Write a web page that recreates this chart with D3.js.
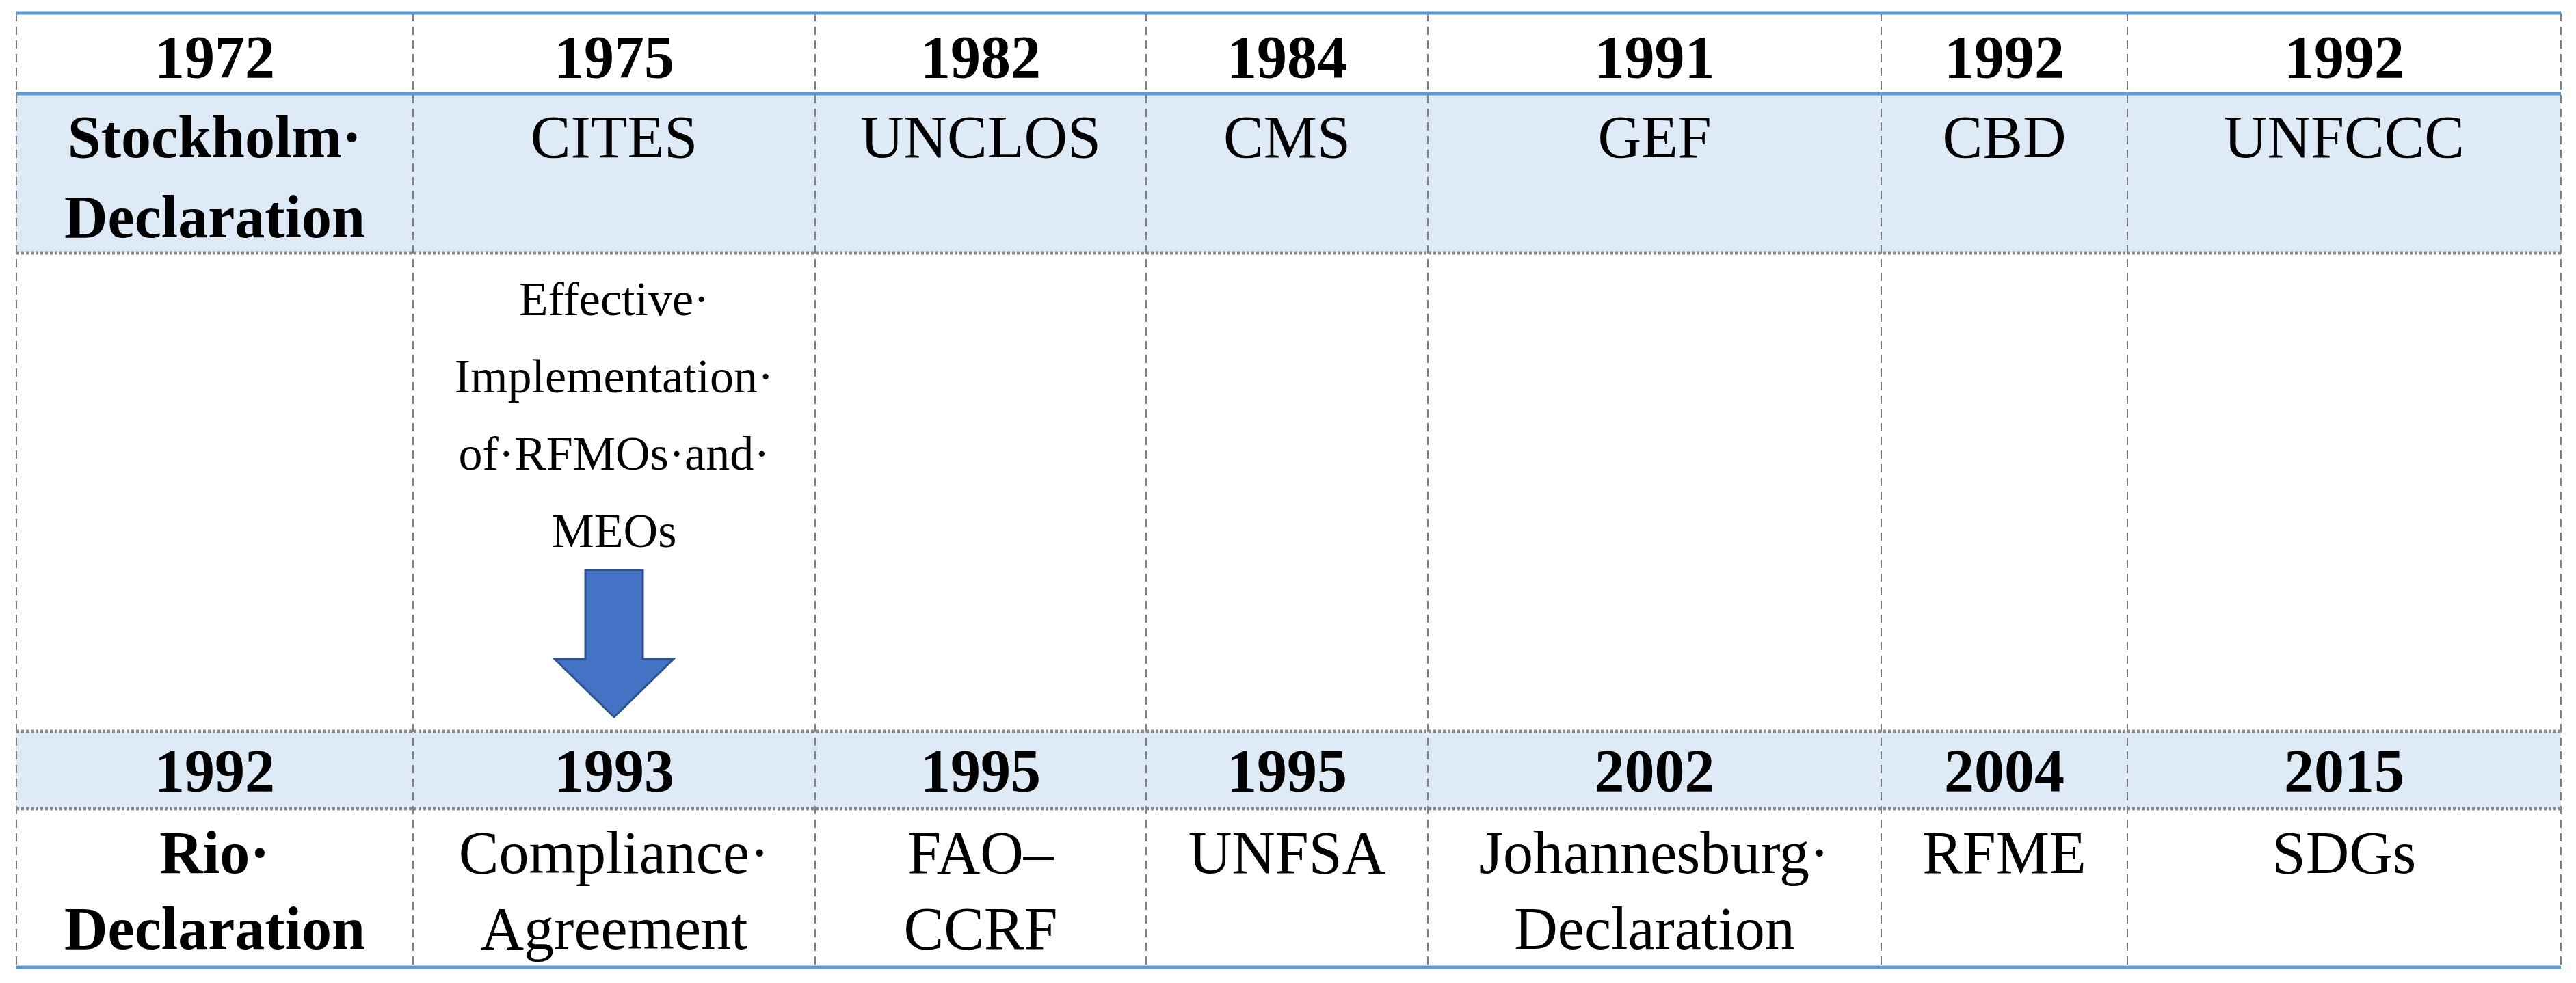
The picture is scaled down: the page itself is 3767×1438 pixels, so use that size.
<!DOCTYPE html>
<html><head><meta charset="utf-8">
<script src="https://cdn.jsdelivr.net/npm/d3@7"></script>
<style>body{margin:0;background:#fff}</style>
</head><body>
<svg id="c" width="3767" height="1438"></svg>
<script>
// data
const topYears = ["1972","1975","1982","1984","1991","1992","1992"];
const topNames = [["Stockholm·","Declaration"],["CITES"],["UNCLOS"],["CMS"],["GEF"],["CBD"],["UNFCCC"]];
const middleNote = ["Effective·","Implementation·","of·RFMOs·and·","MEOs"];
const bottomYears = ["1992","1993","1995","1995","2002","2004","2015"];
const bottomNames = [["Rio·","Declaration"],["Compliance·","Agreement"],["FAO–","CCRF"],["UNFSA"],["Johannesburg·","Declaration"],["RFME"],["SDGs"]];

// layout
const colEdges = [24,604,1192,1676,2088,2751,3111,3745];
const rowEdges = [19,137,370,1070,1183,1415];
const svg = d3.select("#c");
const F = "'Liberation Serif','Times New Roman',serif";
const FS = 88, LH = 117;
const cx = i => (colEdges[i]+colEdges[i+1])/2;
const idx = d3.range(topYears.length);

// blue backgrounds
[[1,2],[3,4]].forEach(([a,b])=>{
  svg.append("rect").attr("x",colEdges[0]).attr("y",rowEdges[a])
    .attr("width",colEdges[7]-colEdges[0]).attr("height",rowEdges[b]-rowEdges[a])
    .attr("fill","#DEEAF6");
});

// vertical dashed lines
svg.selectAll("line.v").data(colEdges).join("line")
  .attr("x1",d=>d).attr("x2",d=>d).attr("y1",rowEdges[0]).attr("y2",rowEdges[5])
  .attr("stroke","#7f7f7f").attr("stroke-width",2).attr("stroke-dasharray","12,8");

// horizontal dotted lines
[rowEdges[2],rowEdges[3],rowEdges[4]].forEach(y=>{
  svg.append("line").attr("x1",colEdges[0]).attr("x2",colEdges[7]).attr("y1",y).attr("y2",y)
    .attr("stroke","#8a8a8a").attr("stroke-width",5).attr("stroke-dasharray","4,3");
});
// blue solid lines
[rowEdges[0],rowEdges[1],rowEdges[5]].forEach(y=>{
  svg.append("line").attr("x1",colEdges[0]).attr("x2",colEdges[7]).attr("y1",y).attr("y2",y)
    .attr("stroke","#5B9BD5").attr("stroke-width",5);
});

function cellText(lines, i, yStart, bold, size, lh){
  const t = svg.append("text").attr("x",cx(i)).attr("text-anchor","middle")
    .attr("font-family",F).attr("font-size",size).attr("font-weight",bold?"bold":"normal")
    .attr("fill","#000");
  lines.forEach((s,k)=>t.append("tspan").attr("x",cx(i)).attr("y",yStart+k*lh)
    .attr("dominant-baseline","central").text(s));
}
idx.forEach(i=>{
  cellText([topYears[i]], i, 83, true, FS, LH);
  cellText(topNames[i], i, 200, i===0, FS, LH);
  cellText([bottomYears[i]], i, 1127, true, FS, LH);
  cellText(bottomNames[i], i, 1247, i===0, FS, 111);
});
cellText(middleNote, 1, 437, false, 70, 113);

// arrow
const ax = cx(1);
const arrow = d3.path();
arrow.moveTo(ax-42,834); arrow.lineTo(ax+42,834); arrow.lineTo(ax+42,964);
arrow.lineTo(ax+87,964); arrow.lineTo(ax,1049); arrow.lineTo(ax-87,964);
arrow.lineTo(ax-42,964); arrow.closePath();
svg.append("path").attr("d",arrow.toString()).attr("fill","#4472C4").attr("stroke","#2F528F").attr("stroke-width",3);
</script>
</body></html>
